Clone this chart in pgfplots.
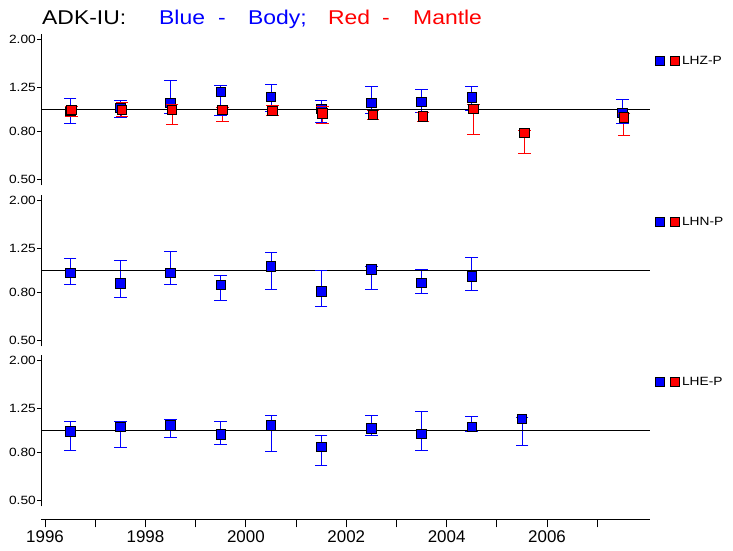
\documentclass[border=0pt]{standalone}
\usepackage{fontspec}
\setmainfont{Liberation Sans}
\newfontfamily\titlefont[FakeStretch=1.15]{Liberation Sans}
\usepackage{pgfplots}
\usepackage{pgfplotstable}
\pgfplotsset{compat=1.18}

% LHZ body (blue)
\pgfplotstableread{
xx yy top bot
1996.5 0.986 1.118 0.867
1997.5 1.013 1.089 0.927
1998.5 1.068 1.337 0.961
1999.5 1.191 1.272 0.945
2000.5 1.133 1.285 0.977
2001.5 1.006 1.093 0.876
2002.5 1.068 1.255 0.961
2003.5 1.075 1.219 0.974
2004.5 1.129 1.255 0.990
2007.5 0.967 1.104 0.870
}\zb
% LHZ mantle (red)
\pgfplotstableread{
xx yy top bot
1996.53 0.993 1.030 0.933
1997.53 0.993 1.071 0.936
1998.53 0.996 1.047 0.862
1999.53 0.993 1.020 0.891
2000.53 0.983 1.040 0.939
2001.53 0.961 1.026 0.870
2002.53 0.948 0.987 0.902
2003.53 0.930 0.967 0.888
2004.53 1.006 1.050 0.780
2005.55 0.793 0.815 0.647
2007.53 0.921 0.960 0.773
}\zm
% LHN body
\pgfplotstableread{
xx yy top bot
1996.5 0.977 1.127 0.870
1997.5 0.876 1.105 0.764
1998.5 0.977 1.213 0.870
1999.5 0.867 0.948 0.742
2000.5 1.041 1.196 0.827
2001.5 0.809 1.000 0.699
2002.5 1.007 1.041 0.830
2003.5 0.884 1.010 0.795
2004.5 0.939 1.142 0.822
}\nb
% LHE body
\pgfplotstableread{
xx yy top bot
1996.5 0.987 1.094 0.822
1997.5 1.037 1.098 0.844
1998.5 1.051 1.116 0.932
1999.5 0.958 1.094 0.869
2000.5 1.048 1.166 0.813
2001.5 0.849 0.948 0.705
2002.5 1.020 1.166 0.948
2003.5 0.964 1.209 0.822
2004.5 1.037 1.150 0.993
2005.5 1.120 1.139 0.861
}\eb

\pgfplotsset{
  mypanel/.style={
    scale only axis, width=609bp, height=151.5bp,
    xmin=1995.92, xmax=2008.05,
    ymin=0.47, ymax=2.12,
    ytick={0.5,0.8,1.25,2}, yticklabels={0.50,0.80,1.25,2.00},
    axis x line=none, axis y line=left,
    y axis line style={-, line width=0.8bp},
    tick align=outside, major tick length=4bp,
    tick style={black, line width=0.8bp},
    yticklabel style={font=\titlefont\fontsize{12}{12}\selectfont, inner sep=1bp},
    clip=false,
    legend style={draw=none, fill=none, at={(1.0085,0.822)}, anchor=west,
      font=\titlefont\fontsize{12}{12}\selectfont, inner sep=0pt},
    legend image code/.code={
      \draw[black, line width=0.7bp, fill=blue] (0bp,-4.5bp) rectangle (9bp,4.5bp);
      \draw[black, line width=0.7bp, fill=red] (15bp,-4.5bp) rectangle (24bp,4.5bp);
    },
  },
  errb/.style={only marks, mark=none, line width=0.8bp},
  capm/.style={forget plot, only marks, mark=-, mark size=6.3bp, color=#1, mark options={draw=#1, line width=0.8bp}},
  sqm/.style={black, only marks, mark=square*, mark size=4.8bp, mark options={fill=#1, line width=0.8bp}},
}

\begin{document}
\begin{tikzpicture}
\useasboundingbox (0,0) rectangle (733bp,551bp);

% Title
\node[anchor=base west, inner sep=0, font=\titlefont\fontsize{20}{20}\selectfont] at (42bp,526bp) {ADK-IU:};
\node[anchor=base west, inner sep=0, font=\titlefont\fontsize{20}{20}\selectfont, text=blue] at (159bp,526bp) {Blue};
\node[anchor=base west, inner sep=0, font=\titlefont\fontsize{20}{20}\selectfont, text=blue] at (218bp,526bp) {-};
\node[anchor=base west, inner sep=0, font=\titlefont\fontsize{20}{20}\selectfont, text=blue] at (248bp,526bp) {Body;};
\node[anchor=base west, inner sep=0, font=\titlefont\fontsize{20}{20}\selectfont, text=red] at (328bp,526bp) {Red};
\node[anchor=base west, inner sep=0, font=\titlefont\fontsize{20}{20}\selectfont, text=red] at (382bp,526bp) {-};
\node[anchor=base west, inner sep=0, font=\titlefont\fontsize{20}{20}\selectfont, text=red] at (413bp,526bp) {Mantle};

% Panel 1: LHZ
\begin{axis}[ymode=log, mypanel, anchor=south west, at={(41bp,365.7bp)}]
\addplot[forget plot, blue, errb, error bars/.cd, y dir=both, y explicit, error mark=none,
  error bar style={blue, line width=0.8bp}]
  table[x=xx, y=yy, y error plus expr=\thisrow{top}-\thisrow{yy}, y error minus expr=\thisrow{yy}-\thisrow{bot}] {\zb};
\addplot[capm=blue] table[x=xx, y=top] {\zb};
\addplot[capm=blue] table[x=xx, y=bot] {\zb};
\addplot[sqm=blue] table[x=xx, y=yy] {\zb};
\addlegendentry{LHZ-P}
\addplot[forget plot, red, errb, error bars/.cd, y dir=both, y explicit, error mark=none,
  error bar style={red, line width=0.8bp}]
  table[x=xx, y=yy, y error plus expr=\thisrow{top}-\thisrow{yy}, y error minus expr=\thisrow{yy}-\thisrow{bot}] {\zm};
\addplot[capm=red] table[x=xx, y=top] {\zm};
\addplot[capm=red] table[x=xx, y=bot] {\zm};
\addplot[forget plot, sqm=red] table[x=xx, y=yy] {\zm};
\addplot[forget plot, black, line width=0.8bp, no marks] coordinates {(1995.92,1) (2008.05,1)};
\end{axis}

% Panel 2: LHN
\begin{axis}[ymode=log, mypanel, anchor=south west, at={(41bp,204.7bp)}]
\addplot[forget plot, blue, errb, error bars/.cd, y dir=both, y explicit, error mark=none,
  error bar style={blue, line width=0.8bp}]
  table[x=xx, y=yy, y error plus expr=\thisrow{top}-\thisrow{yy}, y error minus expr=\thisrow{yy}-\thisrow{bot}] {\nb};
\addplot[capm=blue] table[x=xx, y=top] {\nb};
\addplot[capm=blue] table[x=xx, y=bot] {\nb};
\addplot[sqm=blue] table[x=xx, y=yy] {\nb};
\addlegendentry{LHN-P}
\addplot[forget plot, black, line width=0.8bp, no marks] coordinates {(1995.92,1) (2008.05,1)};
\end{axis}

% Panel 3: LHE
\begin{axis}[ymode=log, mypanel, anchor=south west, at={(41bp,44.7bp)}]
\addplot[forget plot, blue, errb, error bars/.cd, y dir=both, y explicit, error mark=none,
  error bar style={blue, line width=0.8bp}]
  table[x=xx, y=yy, y error plus expr=\thisrow{top}-\thisrow{yy}, y error minus expr=\thisrow{yy}-\thisrow{bot}] {\eb};
\addplot[capm=blue] table[x=xx, y=top] {\eb};
\addplot[capm=blue] table[x=xx, y=bot] {\eb};
\addplot[sqm=blue] table[x=xx, y=yy] {\eb};
\addlegendentry{LHE-P}
\addplot[forget plot, black, line width=0.8bp, no marks] coordinates {(1995.92,1) (2008.05,1)};
\end{axis}

% Time axis
\begin{axis}[scale only axis, width=609bp, height=10bp, anchor=south west, at={(41bp,31.7bp)},
  xmin=1995.92, xmax=2008.05, ymin=0, ymax=1,
  axis y line=none, axis x line=bottom, x axis line style={-, line width=0.8bp},
  xtick={1996,1997,1998,1999,2000,2001,2002,2003,2004,2005,2006,2007},
  xticklabels={1996,,1998,,2000,,2002,,2004,,2006,},
  tick align=outside, major tick length=8bp, tick style={black, line width=0.8bp},
  xticklabel style={font=\fontsize{17}{17}\selectfont}]
\addplot[draw=none, forget plot] coordinates {(2000,0.5)};
\end{axis}
\end{tikzpicture}
\end{document}
